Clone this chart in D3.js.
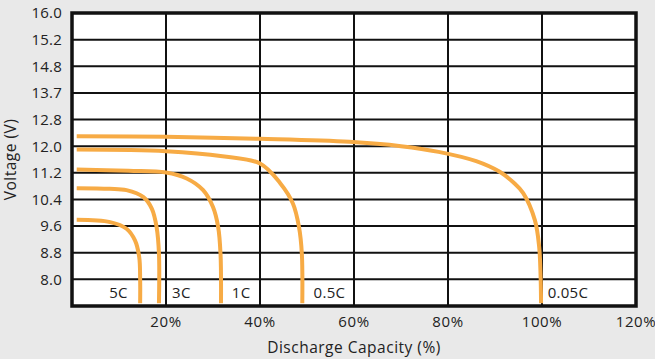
<!DOCTYPE html>
<html>
<head>
<meta charset="utf-8">
<script src="https://cdn.jsdelivr.net/npm/d3@7"></script>
<style>
  html, body { margin: 0; padding: 0; background: #e9e9e9; }
  svg { display: block; font-family: "Open Sans", sans-serif; }
</style>
</head>
<body>
<svg id="chart"></svg>
<script>
const W = 655, H = 359;
const margin = { top: 13, right: 19, bottom: 53, left: 72 };

// y gridline values, top to bottom (evenly spaced on the chart)
const voltTicks = [16.0, 15.2, 14.8, 13.7, 12.8, 12.0, 11.2, 10.4, 9.6, 8.8, 8.0, 7.2];
const capTicks = [20, 40, 60, 80, 100, 120];

// discharge curves: [capacity %, voltage V]
const c005 = [[1, 12.30], [20, 12.28], [40, 12.22], [59, 12.13], [70, 12.0], [78, 11.83], [86, 11.55], [91, 11.23], [94, 10.9], [96, 10.59], [98.5, 9.77], [99.4, 8.97], [99.7, 8.1], [99.8, 7.28]];
const c05 = [[1, 11.90], [20, 11.85], [32, 11.70], [40, 11.48], [44.3, 10.89], [47, 10.28], [48.3, 9.57], [48.9, 8.78], [49, 7.28]];
const c1 = [[1, 11.30], [12, 11.26], [20, 11.21], [24.4, 11.03], [27.9, 10.68], [30, 10.17], [31.1, 9.57], [31.6, 8.77], [31.7, 7.28]];
const c3 = [[1, 10.74], [8, 10.72], [11.6, 10.68], [15.2, 10.47], [17, 10.12], [18, 9.57], [18.5, 8.78], [18.5, 7.28]];
const c5 = [[1, 9.79], [8.1, 9.72], [11.6, 9.52], [13.4, 9.17], [14.3, 8.67], [14.5, 8.0], [14.5, 7.28]];

const curves = [c005, c05, c1, c3, c5];
const rateNames = ["0.05C", "0.5C", "1C", "3C", "5C"];
const labelCap = [101.2, 51.4, 34.0, 21.3, 7.9];

const width = W - margin.left - margin.right,
  height = H - margin.top - margin.bottom;

const svg = d3.select("#chart").attr("width", W).attr("height", H);

const g = svg.append("g").attr("transform", `translate(${margin.left},${margin.top})`);

const x = d3.scaleLinear().domain([0, 120]).range([0, width]);
const y = d3.scaleLinear()
  .domain(voltTicks)
  .range(voltTicks.map((d, i) => (i * height) / (voltTicks.length - 1)));

g.append("rect")
  .attr("width", width).attr("height", height)
  .attr("fill", "#fff");

// grid
g.selectAll(".hgrid")
  .data(voltTicks.slice(1, -1))
  .enter().append("line")
  .attr("x1", 0).attr("x2", width)
  .attr("y1", (d) => y(d)).attr("y2", (d) => y(d))
  .attr("stroke", "#111").attr("stroke-width", 2);

g.selectAll(".vgrid")
  .data(capTicks.slice(0, -1))
  .enter().append("line")
  .attr("y1", 0).attr("y2", height)
  .attr("x1", (d) => x(d)).attr("x2", (d) => x(d))
  .attr("stroke", "#111").attr("stroke-width", 2);

// curves
const line = d3.line()
  .x((d) => x(d[0]))
  .y((d) => y(d[1]))
  .curve(d3.curveCatmullRom.alpha(0.5));

g.selectAll(".curve")
  .data(curves)
  .enter().append("path")
  .attr("d", (d) => line(d))
  .attr("fill", "none")
  .attr("stroke", "#f7ab45")
  .attr("stroke-width", 4);

// rate labels
g.selectAll(".rate")
  .data(rateNames)
  .enter().append("text")
  .attr("x", (d, i) => x(labelCap[i]))
  .attr("y", y(7.6) + 5)
  .attr("font-size", "15px")
  .attr("letter-spacing", "0.3px")
  .attr("fill", "#222")
  .text((d) => d);

// border
g.append("rect")
  .attr("width", width).attr("height", height)
  .attr("fill", "none")
  .attr("stroke", "#111").attr("stroke-width", 3.5);

// y tick labels
g.selectAll(".ylab")
  .data(voltTicks.slice(0, -1))
  .enter().append("text")
  .attr("x", -10)
  .attr("y", (d) => y(d))
  .attr("dy", "0.36em")
  .attr("text-anchor", "end")
  .attr("font-size", "15px")
  .attr("letter-spacing", "0.2px")
  .attr("fill", "#222")
  .text((d) => d.toFixed(1));

// x tick labels
g.selectAll(".xlab")
  .data(capTicks)
  .enter().append("text")
  .attr("x", (d) => x(d))
  .attr("y", height + 21)
  .attr("text-anchor", "middle")
  .attr("font-size", "15px")
  .attr("letter-spacing", "0.6px")
  .attr("fill", "#222")
  .text((d) => d + "%");

g.append("text")
  .attr("x", width / 2)
  .attr("y", height + 47)
  .attr("text-anchor", "middle")
  .attr("font-size", "15.5px")
  .attr("letter-spacing", "0.5px")
  .attr("fill", "#222")
  .text("Discharge Capacity (%)");

g.append("text")
  .attr("transform", `translate(${-56},${height / 2}) rotate(-90)`)
  .attr("text-anchor", "middle")
  .attr("font-size", "15.5px")
  .attr("letter-spacing", "0.5px")
  .attr("fill", "#222")
  .text("Voltage (V)");
</script>
</body>
</html>
